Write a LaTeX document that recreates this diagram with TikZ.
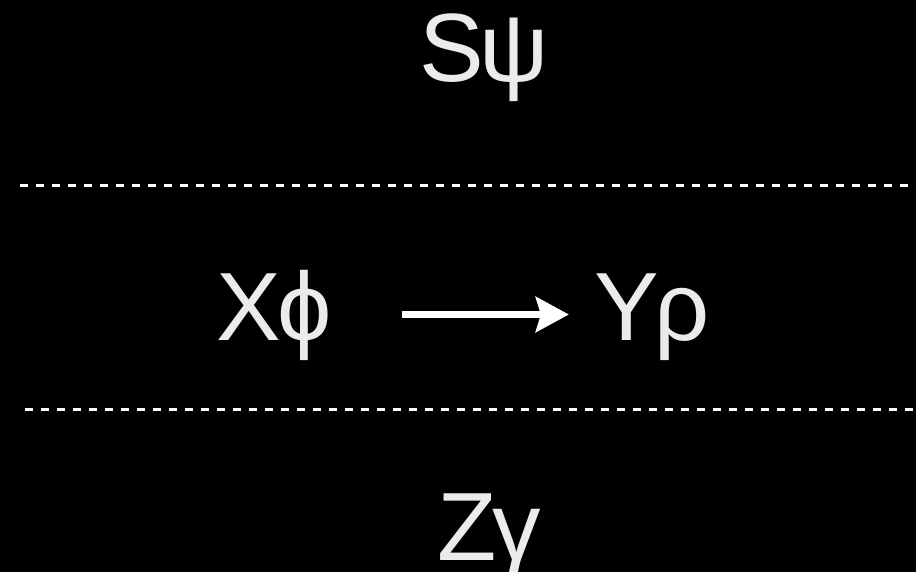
\documentclass[tikz,border=0pt]{standalone}
\usepackage{fontspec}
\setmainfont{Liberation Sans}
\usetikzlibrary{arrows.meta}
\definecolor{txt}{HTML}{EBEBEB}
\begin{document}
\begin{tikzpicture}[x=1pt,y=-1pt,
  lbl/.style={anchor=base,inner sep=0pt,text=txt,font=\fontsize{97}{97}\selectfont},
  sep/.style={draw=white,line width=3pt,dash pattern=on 8pt off 8pt},
  arr/.style={draw=white,line width=7.5pt,-{Stealth[length=33pt,width=35pt,inset=5pt]}}]
\fill[black] (0,0) rectangle (916,572);
\useasboundingbox (0,0) rectangle (916,572);
\node[lbl] (S) at (484,82) {S\kern-4ptψ};
\node[lbl] (X) at (274,340) {X\kern-4ptϕ};
\node[lbl] (Y) at (652,340) {Y\kern-4ptρ};
\node[lbl] (Z) at (489,560) {Z\kern-4ptγ};
\coordinate (t1) at (20,185.5);
\coordinate (t2) at (912,185.5);
\coordinate (b1) at (25,409.5);
\coordinate (b2) at (918,409.5);
\draw[sep] (t1) -- (t2);
\draw[sep] (b1) -- (b2);
\draw[arr] ([xshift=70pt,yshift=25.5pt]X.base east) -- ([xshift=-25pt,yshift=25.5pt]Y.base west);
\end{tikzpicture}
\end{document}
